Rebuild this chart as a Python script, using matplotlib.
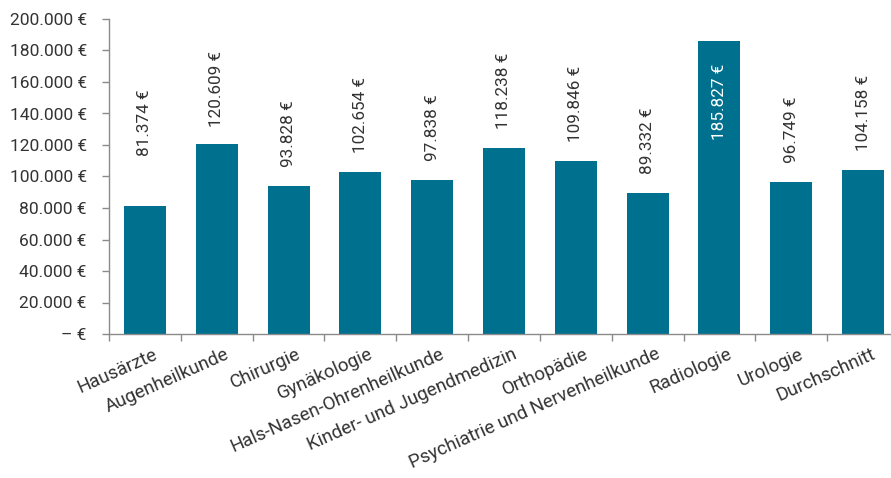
import numpy as np
import matplotlib
matplotlib.use("Agg")
from matplotlib import pyplot as plt
from matplotlib import transforms

fach = ["Hausärzte", "Augenheilkunde", "Chirurgie", "Gynäkologie",
        "Hals-Nasen-Ohrenheilkunde", "Kinder- und Jugendmedizin", "Orthopädie",
        "Psychiatrie und Nervenheilkunde", "Radiologie", "Urologie", "Durchschnitt"]
werte = [81374, 120609, 93828, 102654, 97838, 118238, 109846, 89332, 185827, 96749, 104158]
yticks = [0, 20000, 40000, 60000, 80000, 100000, 120000, 140000, 160000, 180000, 200000]

blau = "#00708f"
grau = "#333333"
plt.rcParams['font.family'] = ['Roboto', 'DejaVu Sans']

def euro(v):
    if v == 0:
        return "– €"
    return f"{v:,.0f}".replace(",", ".") + " €"

fig = plt.figure(figsize=(8.91, 4.78), dpi=100)
ax = fig.add_axes([109/891, 144/478, 790/891, 315/478])
x = np.arange(len(fach))
ax.bar(x, werte, width=0.585, color=blau, zorder=2)
ax.set_xlim(-0.5, len(fach) - 0.5)
ax.set_ylim(0, 200000)

for s in ["top", "right"]:
    ax.spines[s].set_visible(False)
for s in ["left", "bottom"]:
    ax.spines[s].set_color("#8a8a8a")
    ax.spines[s].set_linewidth(1.0)

ax.set_yticks(yticks)
ax.set_yticklabels([euro(v) for v in yticks], fontsize=12.5, color=grau)
ax.tick_params(axis="y", length=5, width=1, color="#8a8a8a", pad=11)

# Kategorien in der Mitte, Striche an den Grenzen
ax.set_xticks(x)
ax.set_xticks(np.arange(len(fach) + 1) - 0.5, minor=True)
ax.tick_params(axis="x", which="major", length=0, pad=8)
ax.tick_params(axis="x", which="minor", length=5, width=1, color="#8a8a8a")
ax.set_xticklabels(fach, rotation=24, ha="right", va="top", rotation_mode="anchor",
                   fontsize=13.5, color=grau)
off = transforms.ScaledTranslation(8/100, 0, fig.dpi_scale_trans)
for lab in ax.get_xticklabels():
    lab.set_transform(lab.get_transform() + off)

# Werte-Beschriftungen
abstand = [50, 17, 19, 19, 19, 19, 19, 19, -22, 19, 19]
for i, v in enumerate(werte):
    if abstand[i] > 0:
        ax.annotate(euro(v), (i, v), xytext=(0, abstand[i] * 0.72), textcoords="offset points",
                    rotation=90, ha="center", va="bottom", fontsize=12.3, color=grau)
    else:
        ax.annotate(euro(v), (i, v), xytext=(0, abstand[i] * 0.72), textcoords="offset points",
                    rotation=90, ha="center", va="top", fontsize=12.3, color="white")

fig.savefig("out.png", dpi=100)
